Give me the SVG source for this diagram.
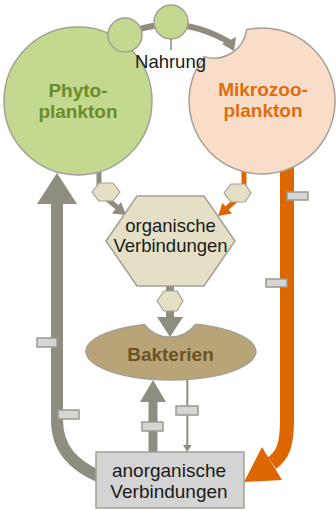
<svg xmlns="http://www.w3.org/2000/svg" width="336" height="511" viewBox="0 0 336 511">
<style>
.g{fill:#8f8d7f}
.gs{fill:none;stroke:#8f8d7f}
.o{fill:#de6600}
.os{fill:none;stroke:#de6600}
.hx{fill:#e5dfc5;stroke:#a3a194;stroke-width:1.2}
.tag{fill:#d5d5d5;stroke:#9c9a8c;stroke-width:1.5}
.node{stroke:#a3a194;stroke-width:1.5}
text{font-family:"Liberation Sans",Arial,sans-serif;text-anchor:middle}
.b{font-weight:bold;font-size:19px}
.n{font-size:18.5px;fill:#1a1a1a}
</style>
<g id="connectors">
  <!-- Nahrung arc -->
  <path class="gs" stroke-width="6" d="M115,40 Q170,8 229,42"/>
  <polygon class="g" points="222,44 236,37 234,51"/>
  <!-- Phyto to organic -->
  <line class="gs" stroke-width="5" x1="99" y1="165" x2="99" y2="186"/>
  <line class="gs" stroke-width="5" x1="107" y1="199" x2="118" y2="208"/>
  <polygon class="g" points="112,213.5 121,202 126,215"/>
  <polygon class="hx" points="92,192 99,183 113,183 120,192 113,201 99,201"/>
  <!-- Mikrozoo to organic -->
  <line class="os" stroke-width="5" x1="244" y1="165" x2="244" y2="186"/>
  <line class="os" stroke-width="5" x1="236" y1="200" x2="226" y2="209"/>
  <polygon class="o" points="232,213.5 222.5,203 218,216"/>
  <polygon class="hx" points="224,193 231,184 245,184 251,193 245,202 231,202"/>
  <!-- organic to Bakterien -->
  <line class="gs" stroke-width="8" x1="170" y1="284" x2="170" y2="318"/>
  <polygon class="g" points="157,317 183,317 170,337"/>
  <polygon class="hx" points="157,301 164,291 177,291 183,301 177,311 164,311"/>
  <!-- anorganic to Bakterien -->
  <line class="gs" stroke-width="9" x1="153" y1="400" x2="153" y2="454"/>
  <polygon class="g" points="140,402 166,402 153,380"/>
  <rect class="tag" x="142" y="422" width="21" height="9"/>
  <!-- Bakterien to anorganic -->
  <line class="gs" stroke-width="2" x1="187.3" y1="378" x2="187.3" y2="446"/>
  <polygon class="g" points="183,445 191.6,445 187.3,452"/>
  <rect class="tag" x="176" y="406" width="22" height="9"/>
  <!-- anorganic to Phyto -->
  <path class="gs" stroke-width="12" d="M57,200 L57,420 C57,450 75,466 100,477"/>
  <polygon class="g" points="37,204 77,204 57,173"/>
  <rect class="tag" x="37" y="338" width="20" height="9"/>
  <rect class="tag" x="58" y="410" width="21" height="9"/>
  <!-- Mikrozoo to anorganic -->
  <path class="os" stroke-width="14" d="M287,165 L287,420 C287,445 283,455 272,463"/>
  <polygon class="o" points="262,447 282,480 244,482"/>
  <rect class="tag" x="287" y="192" width="21" height="8"/>
  <rect class="tag" x="266" y="279" width="21" height="8"/>
</g>
<g id="phytoplankton">
  <circle class="node" cx="78" cy="101" r="74" fill="#c3d98f"/>
  <text class="b" fill="#6a8c2a" x="78" y="97">Phyto-</text>
  <text class="b" fill="#6a8c2a" x="78" y="118">plankton</text>
</g>
<g id="mikrozooplankton">
  <path class="node" fill="#f9ddc9" d="M246.7,29.6 A73,73 0 1,1 204.1,56.6 A33,33 0 0,0 246.7,29.6 Z"/>
  <text class="b" fill="#e06c10" x="263" y="96">Mikrozoo-</text>
  <text class="b" fill="#e06c10" x="263" y="117">plankton</text>
</g>
<g id="organische">
  <polygon class="node" fill="#e5dfc5" points="137,196 204,196 235,241 204,286 137,286 106,241"/>
  <text class="n" x="170.5" y="232">organische</text>
  <text class="n" x="170.5" y="252">Verbindungen</text>
</g>
<g id="bakterien">
  <path class="node" fill="#b9a478" d="M144.4,324.4 A85,28.5 0 1,0 195.6,324.2 A32,32 0 0,1 144.4,324.4 Z"/>
  <text class="b" fill="#6b5325" x="170.5" y="361">Bakterien</text>
</g>
<g id="anorganische">
  <rect class="node" fill="#d4d4d4" x="96" y="452" width="148" height="56"/>
  <text class="n" style="font-size:19px" x="169" y="477">anorganische</text>
  <text class="n" style="font-size:19px" x="169" y="498">Verbindungen</text>
</g>
<g id="nahrung">
  <circle class="node" cx="125" cy="35" r="17" fill="#c3d98f"/>
  <circle class="node" cx="171" cy="22" r="17" fill="#c3d98f"/>
  <line x1="171" y1="39" x2="171" y2="50" stroke="#555" stroke-width="1"/>
  <text class="n" x="170.5" y="68">Nahrung</text>
</g>
</svg>
